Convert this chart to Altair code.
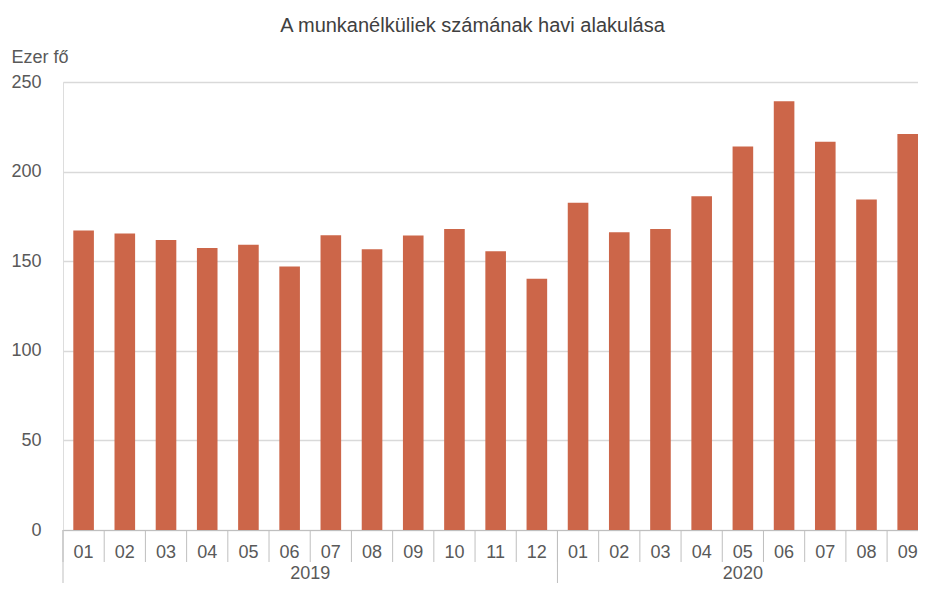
import altair as alt
import pandas as pd

# ---- data ----
months_2019 = ["01", "02", "03", "04", "05", "06", "07", "08", "09", "10", "11", "12"]
values_2019 = [167.1, 165.5, 161.9, 157.4, 159.2, 147.0, 164.5, 156.6, 164.4, 168.0, 155.5, 140.2]
months_2020 = ["01", "02", "03", "04", "05", "06", "07", "08", "09"]
values_2020 = [182.6, 166.1, 168.0, 186.3, 214.0, 239.3, 216.6, 184.4, 221.0]
years = ["2019", "2020"]
y_ticks = [0, 50, 100, 150, 200, 250]

title_text = "A munkanélküliek számának havi alakulása"
y_title = "Ezer fő"

# ---- tables built from the arrays above ----
rows = []
i = 0
year_rows = []
for yr, ms, vs in [(years[0], months_2019, values_2019), (years[1], months_2020, values_2020)]:
    start = i
    for m, v in zip(ms, vs):
        rows.append({"idx": i, "x0": i + 0.25, "x1": i + 0.75, "xc": i + 0.5,
                     "year": yr, "month": m, "value": v})
        i += 1
    year_rows.append({"year": yr, "start": start, "center": (start + i) / 2})
df = pd.DataFrame(rows)
ydf = pd.DataFrame(year_rows)
n = len(df)
bdf = pd.DataFrame({"b": list(range(n + 1))})  # category boundaries

FONT = "Liberation Sans"
TXT = "#595959"
BAR = "#CC6649"
GRID = "#d9d9d9"
AX = "#bfbfbf"

TOP = 74
PLOT_H = 448
PLOT_W = 855
BOTTOM = 53
XMAX = n - 0.25  # the last bar ends exactly at the right edge, as in the reference

xs = alt.Scale(domain=[0, XMAX], nice=False, zero=False)
ys = alt.Scale(domain=[0, 250], nice=False)

bars = alt.Chart(df).mark_bar(color=BAR, clip=True).encode(
    x=alt.X("x0:Q", scale=xs,
            axis=alt.Axis(title=None, labels=False, ticks=False, grid=False,
                          domain=True, domainColor=AX, domainWidth=1)),
    x2="x1:Q",
    y=alt.Y("value:Q", scale=ys,
            axis=alt.Axis(values=y_ticks, grid=True, gridColor=GRID, gridWidth=1.5,
                          domain=False, ticks=False, labelFontSize=18, labelFont=FONT,
                          labelColor=TXT, labelPadding=22,
                          title=y_title, titleAngle=0, titleAlign="left",
                          titleBaseline="alphabetic", titleX=-52, titleY=-20,
                          titleFontSize=18, titleFont=FONT, titleFontWeight="normal",
                          titleColor=TXT)),
    y2=alt.datum(0),
)

ticks = alt.Chart(bdf).transform_filter(f"datum.b <= {XMAX}").mark_rule(
    color=AX, strokeWidth=1
).encode(
    x=alt.X("b:Q", scale=xs),
    y=alt.value(PLOT_H),
    y2=alt.value(PLOT_H + 32),
)

month_labels = alt.Chart(df).mark_text(
    font=FONT, fontSize=18, color=TXT, baseline="alphabetic", align="center"
).encode(
    x=alt.X("xc:Q", scale=xs),
    y=alt.value(PLOT_H + 28),
    text="month:N",
)

seps = alt.Chart(ydf).mark_rule(color=AX, strokeWidth=1).encode(
    x=alt.X("start:Q", scale=xs),
    y=alt.value(PLOT_H),
    y2=alt.value(PLOT_H + BOTTOM),
)

year_labels = alt.Chart(ydf).mark_text(
    font=FONT, fontSize=18, color=TXT, baseline="alphabetic", align="center"
).encode(
    x=alt.X("center:Q", scale=xs),
    y=alt.value(PLOT_H + 49),
    text="year:N",
)

title_layer = alt.Chart(pd.DataFrame({"t": [title_text]})).mark_text(
    font=FONT, fontSize=20, color="#404040", baseline="alphabetic", align="center"
).encode(
    x=alt.value(409.5),
    y=alt.value(-50),
    text="t:N",
)

chart = alt.layer(bars, ticks, month_labels, seps, year_labels, title_layer).properties(
    width=PLOT_W,
    height=PLOT_H,
    autosize=alt.AutoSizeParams(type="none"),
    padding={"left": 55, "top": TOP, "right": 0, "bottom": BOTTOM},
).configure_view(stroke=None).configure(background="white")

chart.save("out.html", embed_options={"renderer": "svg", "actions": False})
